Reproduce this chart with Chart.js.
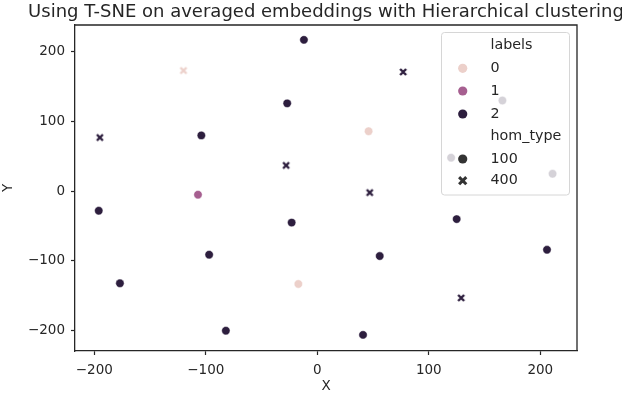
<!DOCTYPE html>
<html>
<head>
<meta charset="utf-8">
<script src="https://cdn.jsdelivr.net/npm/chart.js@4/dist/chart.umd.min.js"></script>
<style>
html,body{margin:0;padding:0;background:#fff;}
#wrap{width:622px;height:394px;position:relative;}
</style>
</head>
<body>
<div id="wrap"><canvas id="c" width="622" height="394"></canvas></div>
<script>
// ---- data ----
const pointX = [-120, -195, -104, -107, -196, -177, -97, -82, -12, 77, -27, 46, -28, 47, -23, 125, 56, -17, 129, 41, 166, 120, 211, 206];
const pointY = [173, 77, 80, -5, -28, -132, -91, -200, 217, 171, 126, 86, 37, -2, -45, -40, -93, -133, -153, -206, 130, 48, 25, -84];
const pointLabel = [0, 2, 2, 1, 2, 2, 2, 2, 2, 2, 2, 0, 2, 2, 2, 2, 2, 0, 2, 2, 2, 2, 2, 2];
const pointHomType = [400, 400, 100, 100, 100, 100, 100, 100, 100, 400, 100, 100, 400, 400, 100, 100, 100, 100, 400, 100, 100, 100, 100, 100];
const labelLevels = [0, 1, 2];
const homTypeLevels = [100, 400];
const xTicks = [-200, -100, 0, 100, 200];
const yTicks = [-200, -100, 0, 100, 200];
const titleText = 'Using T-SNE on averaged embeddings with Hierarchical clustering';
const xTitle = 'X';
const yTitle = 'Y';

// ---- styles ----
const labelColors = ['#ecd0ca', '#a65f90', '#2d1e3e'];
const legendGray = '#333333';
const FONT = "'DejaVu Sans', sans-serif";

function makeX(color) {
  const c = document.createElement('canvas');
  c.width = 10; c.height = 10;
  const g = c.getContext('2d');
  g.strokeStyle = 'rgba(255,255,255,0.8)';
  g.lineWidth = 3.4;
  g.lineCap = 'butt';
  g.beginPath(); g.moveTo(1.6, 1.6); g.lineTo(8.4, 8.4); g.moveTo(8.4, 1.6); g.lineTo(1.6, 8.4); g.stroke();
  g.strokeStyle = color;
  g.lineWidth = 2.4;
  g.beginPath(); g.moveTo(2, 2); g.lineTo(8, 8); g.moveTo(8, 2); g.lineTo(2, 8); g.stroke();
  return c;
}

const datasets = [];
labelLevels.forEach((lab, li) => {
  homTypeLevels.forEach(h => {
    const pts = [];
    for (let i = 0; i < pointX.length; i++) {
      if (pointLabel[i] === lab && pointHomType[i] === h) pts.push({x: pointX[i], y: pointY[i]});
    }
    if (!pts.length) return;
    datasets.push({
      label: lab + '/' + h,
      data: pts,
      backgroundColor: labelColors[li],
      borderColor: 'rgba(255,255,255,0.8)',
      borderWidth: 0.6,
      pointRadius: 4.2,
      pointHoverRadius: 4.2,
      pointStyle: h === 400 ? makeX(labelColors[li]) : 'circle'
    });
  });
});

const fmt = v => String(v).replace('-', '\u2212');

const decor = {
  id: 'decor',
  afterDraw(chart) {
    const ctx = chart.ctx;
    const a = chart.chartArea;
    ctx.save();
    // spines top/right
    ctx.strokeStyle = '#262626';
    ctx.lineWidth = 1.3;
    ctx.beginPath();
    ctx.moveTo(a.left, a.top); ctx.lineTo(a.right, a.top); ctx.lineTo(a.right, a.bottom);
    ctx.stroke();
    // title
    ctx.fillStyle = '#262626';
    ctx.font = '18px ' + FONT;
    ctx.textAlign = 'center';
    ctx.textBaseline = 'middle';
    ctx.fillText(titleText, (a.left + a.right) / 2, 12);
    // axis titles
    ctx.font = '13.5px ' + FONT;
    ctx.fillText(xTitle, (a.left + a.right) / 2, 386);
    ctx.save();
    ctx.translate(8, (a.top + a.bottom) / 2);
    ctx.rotate(-Math.PI / 2);
    ctx.fillText(yTitle, 0, 0);
    ctx.restore();
    // legend
    const L = 441.5, T = 32.5, R = 569.5, B = 195, rad = 3;
    ctx.beginPath();
    ctx.moveTo(L + rad, T); ctx.lineTo(R - rad, T); ctx.arcTo(R, T, R, T + rad, rad);
    ctx.lineTo(R, B - rad); ctx.arcTo(R, B, R - rad, B, rad);
    ctx.lineTo(L + rad, B); ctx.arcTo(L, B, L, B - rad, rad);
    ctx.lineTo(L, T + rad); ctx.arcTo(L, T, L + rad, T, rad);
    ctx.closePath();
    ctx.fillStyle = 'rgba(255,255,255,0.8)';
    ctx.fill();
    ctx.strokeStyle = '#d6d6d6';
    ctx.lineWidth = 1;
    ctx.stroke();
    const tx = 490.5, mx = 462.7;
    const rows = [
      {t: 'labels', y: 45.7},
      {t: String(labelLevels[0]), y: 68.3, m: 'c', col: labelColors[0]},
      {t: String(labelLevels[1]), y: 91, m: 'c', col: labelColors[1]},
      {t: String(labelLevels[2]), y: 114, m: 'c', col: labelColors[2]},
      {t: 'hom_type', y: 136.7},
      {t: String(homTypeLevels[0]), y: 159, m: 'c', col: legendGray},
      {t: String(homTypeLevels[1]), y: 180.7, m: 'x', col: legendGray}
    ];
    ctx.font = '14.3px ' + FONT;
    ctx.textAlign = 'left';
    rows.forEach(r => {
      ctx.fillStyle = '#262626';
      ctx.fillText(r.t, tx, r.y);
      if (r.m === 'c') {
        ctx.beginPath(); ctx.arc(mx, r.y, 4.6, 0, Math.PI * 2);
        ctx.fillStyle = r.col; ctx.fill();
      } else if (r.m === 'x') {
        ctx.strokeStyle = r.col; ctx.lineWidth = 3;
        ctx.beginPath();
        ctx.moveTo(mx - 3.6, r.y - 3.6); ctx.lineTo(mx + 3.6, r.y + 3.6);
        ctx.moveTo(mx + 3.6, r.y - 3.6); ctx.lineTo(mx - 3.6, r.y + 3.6);
        ctx.stroke();
      }
    });
    ctx.restore();
  }
};

const tickFont = {family: FONT, size: 13.5};

new Chart(document.getElementById('c'), {
  type: 'scatter',
  data: {datasets},
  options: {
    responsive: false,
    animation: false,
    layout: {padding: {top: 25, right: 45, left: 0, bottom: 0}},
    plugins: {legend: {display: false}, tooltip: {enabled: false}, title: {display: false}},
    scales: {
      x: {
        type: 'linear',
        min: -217.3, max: 232.9,
        afterFit: s => { s.height = 43; },
        afterBuildTicks: s => { s.ticks = xTicks.map(v => ({value: v})); },
        ticks: {font: tickFont, color: '#262626', padding: 7, maxRotation: 0, callback: fmt},
        grid: {display: true, drawOnChartArea: false, drawTicks: true, tickLength: 4, tickColor: '#262626', tickWidth: 1.2},
        border: {display: true, color: '#262626', width: 1.3}
      },
      y: {
        type: 'linear',
        min: -229.1, max: 238.3,
        afterFit: s => { s.width = 75; },
        afterBuildTicks: s => { s.ticks = yTicks.map(v => ({value: v})); },
        ticks: {font: tickFont, color: '#262626', padding: 6, callback: fmt},
        grid: {display: true, drawOnChartArea: false, drawTicks: true, tickLength: 4, tickColor: '#262626', tickWidth: 1.2},
        border: {display: true, color: '#262626', width: 1.3}
      }
    }
  },
  plugins: [decor]
});
</script>
</body>
</html>
